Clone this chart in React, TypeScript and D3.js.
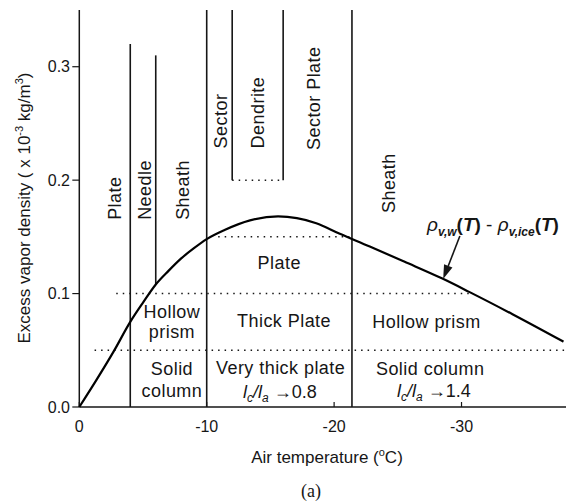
import React from "react";
import * as d3 from "d3";

// Excess vapour density over ice versus air temperature
const curveT = [0, -1.3, -2.7, -4, -5, -6, -7, -8, -9, -10, -11.4, -13.4, -15.6, -18.6, -20.4, -22.8, -25.5, -28.5, -30.6, -34, -38];
const curveV = [0, 0.023, 0.049, 0.075, 0.092, 0.108, 0.12, 0.131, 0.14, 0.148, 0.156, 0.1645, 0.168, 0.162, 0.153, 0.1415, 0.1282, 0.1132, 0.1015, 0.0818, 0.0576];

const xTicks = [0, -10, -20, -30];
const yTicks = [0, 0.1, 0.2, 0.3];
const yTickLabels = ["0.0", "0.1", "0.2", "0.3"];

// Habit regime boundaries (temperature, lower and upper density)
const boundaryT = [-4, -6, -10, -12, -16, -21.4];
const boundaryLow = [0, 0.108, 0, 0.2, 0.2, 0];
const boundaryHigh = [0.32, 0.31, 0.35, 0.35, 0.35, 0.35];

// Dotted supersaturation thresholds
const thresholdV = [0.2, 0.15, 0.1, 0.05];
const thresholdFrom = [-12, -10.9, -2.9, -1.2];
const thresholdTo = [-16, -21.2, -30.6, -38.2];

// Vertical habit names (anchored at T, starting density)
const vLabels = ["Plate", "Needle", "Sheath", "Sector", "Dendrite", "Sector Plate", "Sheath"];
const vLabelT = [-3.3, -5.6, -8.6, -11.6, -14.5, -18.9, -24.8];
const vLabelV = [0.165, 0.165, 0.165, 0.228, 0.228, 0.2266, 0.171];

// Horizontal habit names (centre T, baseline density)
const hLabels = ["Plate", "Hollow", "prism", "Solid", "column", "Thick Plate", "Very thick plate", "Hollow prism", "Solid column"];
const hLabelT = [-15.69, -7.27, -7.27, -7.27, -7.27, -16.07, -15.8, -27.25, -27.54];
const hLabelV = [0.1217, 0.0782, 0.0606, 0.0282, 0.0091, 0.0708, 0.0291, 0.0694, 0.0282];

// Axis ratio annotations
const ratioValues = ["0.8", "1.4"];
const ratioT = [-15.74, -27.83];
const ratioV = [0.0077, 0.0091];

// Pointer to the curve
const arrowT = [-29.87, -28.56];
const arrowV = [0.1508, 0.1128];

const FONT = "'Liberation Sans', Arial, Helvetica, sans-serif";
const INK = "#161616";
const LABEL_SPACING = 0.45;

export default function App() {
  const x = d3.scaleLinear().domain([0, -38.2]).range([79.3, 566]);
  const y = d3.scaleLinear().domain([0, 0.35]).range([407, 10]);

  const line = d3
    .line<number>()
    .x((_, i) => x(curveT[i]))
    .y((_, i) => y(curveV[i]))
    .curve(d3.curveMonotoneX);
  const path = line(curveT) || "";

  // arrow geometry in pixel space
  const ax0 = x(arrowT[0]);
  const ay0 = y(arrowV[0]);
  const ax1 = x(arrowT[1]);
  const ay1 = y(arrowV[1]);
  const dx = ax1 - ax0;
  const dy = ay1 - ay0;
  const len = Math.hypot(dx, dy);
  const ux = dx / len;
  const uy = dy / len;
  const headL = 14;
  const headW = 4.5;
  const bx = ax1 - ux * headL;
  const by = ay1 - uy * headL;
  const head = `M${ax1},${ay1} L${bx - uy * headW},${by + ux * headW} L${bx + uy * headW},${by - ux * headW} Z`;

  return (
    <svg
      width={567}
      height={503}
      style={{ position: "absolute", left: 0, top: 0, background: "#fff" }}
      fontFamily={FONT}
    >
      {/* axes */}
      <line x1={x(0)} x2={x(0)} y1={y(0.35)} y2={y(0)} stroke={INK} strokeWidth={1.5} />
      <line x1={x(0)} x2={x(-38.2)} y1={y(0)} y2={y(0)} stroke={INK} strokeWidth={1.5} />
      {yTicks.map((v, i) => (
        <g key={"yt" + i}>
          <line x1={x(0) - 7} x2={x(0)} y1={y(v)} y2={y(v)} stroke={INK} strokeWidth={1.2} />
          <text x={70} y={y(v)} dy="0.36em" textAnchor="end" fontSize={16} fill={INK}>
            {yTickLabels[i]}
          </text>
        </g>
      ))}
      {xTicks.map((t, i) => (
        <g key={"xt" + i}>
          <line x1={x(t)} x2={x(t)} y1={y(0)} y2={y(0) - 5} stroke={INK} strokeWidth={1.2} />
          <text x={x(t)} y={431.5} textAnchor="middle" fontSize={16} fill={INK}>
            {t === 0 ? "0" : String(t)}
          </text>
        </g>
      ))}

      {/* axis titles */}
      <text x={327} y={463} textAnchor="middle" fontSize={17} fill={INK}>
        Air temperature (
        <tspan fontSize={11} dy={-7}>o</tspan>
        <tspan dy={7}>C)</tspan>
      </text>
      <text
        transform="translate(30,208) rotate(-90)"
        textAnchor="middle"
        fontSize={17}
        fill={INK}
      >
        Excess vapor density ( x 10
        <tspan fontSize={11} dy={-7}>-3</tspan>
        <tspan dy={7}> kg/m</tspan>
        <tspan fontSize={11} dy={-7}>3</tspan>
        <tspan dy={7}>)</tspan>
      </text>
      <text x={311} y={497} textAnchor="middle" fontSize={18} fontFamily="'Liberation Serif', 'Times New Roman', serif" fill={INK}>
        (a)
      </text>

      {/* regime boundaries */}
      {boundaryT.map((t, i) => (
        <line
          key={"b" + i}
          x1={x(t)}
          x2={x(t)}
          y1={y(boundaryLow[i])}
          y2={y(boundaryHigh[i])}
          stroke={INK}
          strokeWidth={1.6}
        />
      ))}

      {/* thresholds */}
      {thresholdV.map((v, i) => (
        <line
          key={"d" + i}
          x1={x(thresholdFrom[i])}
          x2={x(thresholdTo[i])}
          y1={y(v)}
          y2={y(v)}
          stroke={INK}
          strokeWidth={1.5}
          strokeDasharray="1.5 5"
        />
      ))}

      {/* excess vapour density curve */}
      <path d={path} fill="none" stroke="#000" strokeWidth={2.2} />

      {/* vertical habit labels */}
      {vLabels.map((s, i) => (
        <text
          key={"vl" + i}
          transform={`translate(${x(vLabelT[i])},${y(vLabelV[i])}) rotate(-90)`}
          fontSize={18}
          letterSpacing={LABEL_SPACING}
          fill={INK}
        >
          {s}
        </text>
      ))}

      {/* horizontal habit labels */}
      {hLabels.map((s, i) => (
        <text
          key={"hl" + i}
          x={x(hLabelT[i])}
          y={y(hLabelV[i])}
          textAnchor="middle"
          fontSize={18}
          letterSpacing={LABEL_SPACING}
          fill={INK}
        >
          {s}
        </text>
      ))}

      {ratioValues.map((r, i) => (
        <text
          key={"r" + i}
          x={x(ratioT[i])}
          y={y(ratioV[i])}
          textAnchor="middle"
          fontSize={18}
          fill={INK}
        >
          <tspan fontStyle="italic">l</tspan>
          <tspan fontStyle="italic" fontSize={12} dy={4}>c</tspan>
          <tspan fontStyle="italic" dy={-4}>/l</tspan>
          <tspan fontStyle="italic" fontSize={12} dy={4}>a</tspan>
          <tspan dy={-4}> {"\u2192"}{r}</tspan>
        </text>
      ))}

      {/* formula label and pointer */}
      <text x={427} y={231} fontSize={19} fill={INK} fontStyle="italic">
        <tspan>ρ</tspan>
        <tspan fontSize={12} fontWeight="bold" dy={5}>v,w</tspan>
        <tspan dy={-5} fontStyle="normal" fontWeight="bold">(</tspan>
        <tspan fontWeight="bold">T</tspan>
        <tspan fontStyle="normal" fontWeight="bold">)</tspan>
        <tspan fontStyle="normal"> - </tspan>
        <tspan>ρ</tspan>
        <tspan fontSize={12} fontWeight="bold" dy={5}>v,ice</tspan>
        <tspan dy={-5} fontStyle="normal" fontWeight="bold">(</tspan>
        <tspan fontWeight="bold">T</tspan>
        <tspan fontStyle="normal" fontWeight="bold">)</tspan>
      </text>
      <line x1={ax0} y1={ay0} x2={bx} y2={by} stroke={INK} strokeWidth={1.6} />
      <path d={head} fill={INK} />
    </svg>
  );
}
